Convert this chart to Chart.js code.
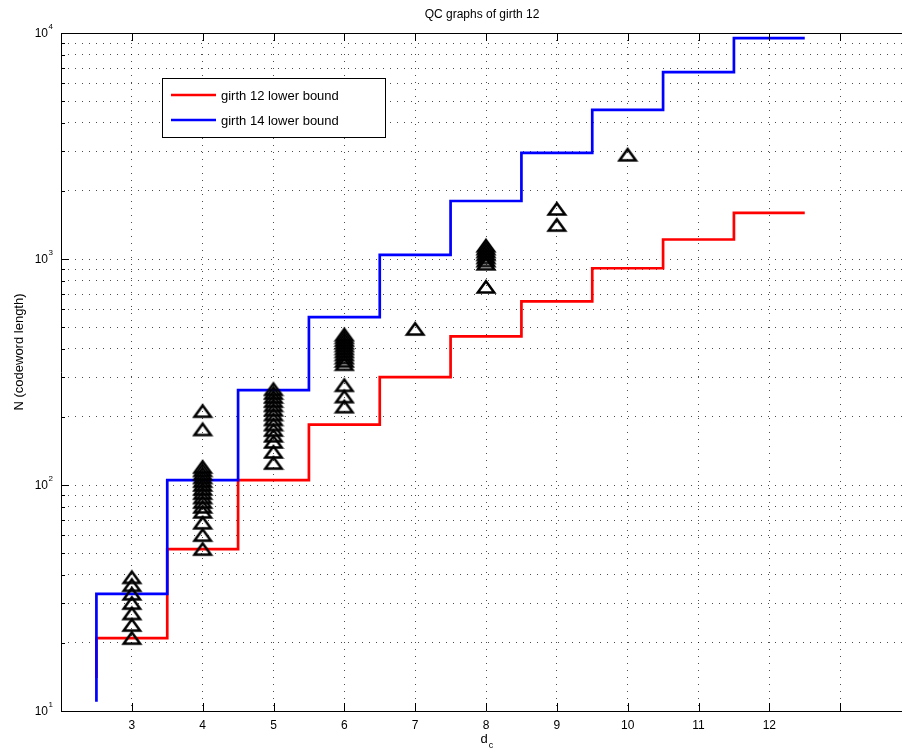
<!DOCTYPE html>
<html>
<head>
<meta charset="utf-8">
<script src="https://cdn.jsdelivr.net/npm/chart.js@4"></script>
<style>
html,body{margin:0;padding:0;overflow:hidden;background:#fff;width:902px;height:754px;}
#wrap{width:902px;height:754px;position:relative;overflow:hidden;}
canvas{display:block;}
</style>
</head>
<body>
<div id="wrap"><canvas id="c" width="920" height="754" style="width:920px;height:754px"></canvas></div>
<script>
// ---- data ----
const chartTitle = 'QC graphs of girth 12';
const xTickValues = [3, 4, 5, 6, 7, 8, 9, 10, 11, 12];
const xTickLabels = ['3', '4', '5', '6', '7', '8', '9', '10', '11', '12'];
const yDecades = [10, 100, 1000, 10000];
const yDecadeExps = ['1', '2', '3', '4'];
const yMinorMult = [2, 3, 4, 5, 6, 7, 8, 9];
const stepEdges = [2.5, 3.5, 4.5, 5.5, 6.5, 7.5, 8.5, 9.5, 10.5, 11.5, 12.5];
const girth12Bound = [14, 21, 52, 105, 185, 300, 455, 650, 910, 1220, 1600];
const girth14Bound = [11, 33, 105, 263, 553, 1042, 1806, 2946, 4565, 6713, 9500];
const qcDc3 = [21, 24, 27, 30, 33, 36, 39];
const qcDc4 = [52, 60, 68, 76, 80, 84, 88, 92, 96, 100, 104, 108, 112, 116, 120, 176, 212];
const qcDc5 = [125, 140, 155, 165, 175, 185, 195, 205, 215, 225, 235, 245, 255, 265];
const qcDc6 = [222, 246, 276, 342, 354, 366, 378, 390, 402, 414, 426, 438, 450, 462];
const qcDc7 = [490];
const qcDc8 = [752, 952, 984, 1016, 1048, 1080, 1112, 1144];
const qcDc9 = [1413, 1665];
const qcDc10 = [2890];
const legendLabels = ['girth 12 lower bound', 'girth 14 lower bound'];

// ---- build ----
const FONT = "'Liberation Sans', Arial, Helvetica, sans-serif";
const qcSets = [[3, qcDc3], [4, qcDc4], [5, qcDc5], [6, qcDc6], [7, qcDc7], [8, qcDc8], [9, qcDc9], [10, qcDc10]];
const qcPoints = [];
qcSets.forEach(([d, arr]) => arr.forEach(n => qcPoints.push({x: d, y: n})));
const red = stepEdges.map((e, i) => ({x: e, y: girth12Bound[i]}));
const blue = stepEdges.map((e, i) => ({x: e, y: girth14Bound[i]}));
const yGrid = [];
yDecades.forEach((d, i) => {
  yGrid.push(d);
  if (i < yDecades.length - 1) yMinorMult.forEach(m => yGrid.push(d * m));
});

const tri = document.createElement('canvas');
tri.width = 22; tri.height = 18;
(function () {
  const g = tri.getContext('2d');
  g.lineWidth = 2.5; g.strokeStyle = '#000'; g.lineJoin = 'miter';
  g.beginPath(); g.moveTo(11, 3.2); g.lineTo(19.2, 14.5); g.lineTo(2.8, 14.5); g.closePath(); g.stroke();
})();

const deco = {
  id: 'deco',
  afterDraw(chart) {
    const {ctx, chartArea: a, scales: {x, y}} = chart;
    ctx.save();
    ctx.strokeStyle = '#000';
    ctx.lineWidth = 1;
    // axes lines (top, left, bottom)
    ctx.beginPath();
    ctx.moveTo(a.right, a.top + 0.5); ctx.lineTo(a.left + 0.5, a.top + 0.5);
    ctx.lineTo(a.left + 0.5, a.bottom + 0.5); ctx.lineTo(a.right, a.bottom + 0.5);
    ctx.stroke();
    ctx.beginPath();
    for (let v = 3; v <= 13; v++) {
      const px = Math.round(x.getPixelForValue(v)) + 0.5;
      ctx.moveTo(px, a.bottom); ctx.lineTo(px, a.bottom - 8);
      ctx.moveTo(px, a.top); ctx.lineTo(px, a.top + 8);
    }
    yGrid.forEach(v => {
      const py = Math.round(y.getPixelForValue(v)) + 0.5;
      const len = yDecades.includes(v) ? 8 : 4;
      ctx.moveTo(a.left, py); ctx.lineTo(a.left + len, py);
    });
    ctx.stroke();
    ctx.fillStyle = '#000';
    yDecades.forEach((v, i) => {
      const py = y.getPixelForValue(v);
      ctx.font = '12px ' + FONT;
      ctx.textAlign = 'right'; ctx.textBaseline = 'middle';
      ctx.fillText('10', 48, py + 1);
      ctx.font = '8px ' + FONT;
      ctx.textAlign = 'left';
      ctx.fillText(yDecadeExps[i], 48.5, py - 6);
    });
    ctx.font = '12px ' + FONT;
    ctx.textAlign = 'center'; ctx.textBaseline = 'middle';
    ctx.fillText(chartTitle, 482, 15);
    ctx.font = '13px ' + FONT;
    ctx.textAlign = 'center';
    ctx.fillText('d', 484, 739);
    ctx.font = '9px ' + FONT;
    ctx.fillText('c', 491, 746);
    ctx.save();
    ctx.translate(19, 352);
    ctx.rotate(-Math.PI / 2);
    ctx.font = '13px ' + FONT;
    ctx.textAlign = 'center'; ctx.textBaseline = 'middle';
    ctx.fillText('N (codeword length)', 0, 0);
    ctx.restore();
    ctx.fillStyle = '#fff';
    ctx.fillRect(162.5, 78.5, 223, 59);
    ctx.strokeStyle = '#000'; ctx.lineWidth = 1;
    ctx.strokeRect(162.5, 78.5, 223, 59);
    const cols = ['#ff0000', '#0000ff'];
    const ys = [95, 120];
    legendLabels.forEach((t, i) => {
      ctx.strokeStyle = cols[i]; ctx.lineWidth = 2.7;
      ctx.beginPath(); ctx.moveTo(171, ys[i]); ctx.lineTo(216, ys[i]); ctx.stroke();
      ctx.fillStyle = '#000';
      ctx.font = '13px ' + FONT;
      ctx.textAlign = 'left'; ctx.textBaseline = 'middle';
      ctx.fillText(t, 221, ys[i] + 1);
    });
    ctx.restore();
  }
};

const gridOpts = {color: 'rgba(0,0,0,0.7)', lineWidth: 1, drawTicks: false};
new Chart(document.getElementById('c'), {
  type: 'scatter',
  data: {
    datasets: [
      {label: 'QC', data: qcPoints, showLine: false, pointStyle: tri, pointRadius: 8, pointHoverRadius: 8},
      {label: legendLabels[1], data: blue, showLine: true, stepped: 'after', borderColor: '#0000ff', borderWidth: 2.7, pointRadius: 0, fill: false},
      {label: legendLabels[0], data: red, showLine: true, stepped: 'after', borderColor: '#ff0000', borderWidth: 2.7, pointRadius: 0, fill: false}
    ]
  },
  options: {
    responsive: false,
    maintainAspectRatio: false,
    devicePixelRatio: 1,
    animation: false,
    events: [],
    layout: {padding: {top: 33, right: 3, left: 0, bottom: 0}},
    plugins: {legend: {display: false}, title: {display: false}, tooltip: {enabled: false}},
    scales: {
      x: {
        type: 'linear', min: 2, max: 14,
        afterFit(s) { s.height = 43; },
        afterBuildTicks(s) { const t = []; for (let v = 2; v <= 14; v++) t.push({value: v}); s.ticks = t; },
        ticks: {
          autoSkip: false, maxRotation: 0, padding: 7, color: '#000',
          font: {family: FONT, size: 12},
          callback(v) { const i = xTickValues.indexOf(v); return i >= 0 ? xTickLabels[i] : ''; }
        },
        grid: gridOpts,
        border: {display: false, dash: [1, 6]}
      },
      y: {
        type: 'logarithmic', min: 10, max: 10000,
        afterFit(s) { s.width = 61; },
        afterBuildTicks(s) { s.ticks = yGrid.map(v => ({value: v})); },
        ticks: {display: false},
        grid: gridOpts,
        border: {display: false, dash: [1, 6]}
      }
    }
  },
  plugins: [deco]
});
</script>
</body>
</html>
